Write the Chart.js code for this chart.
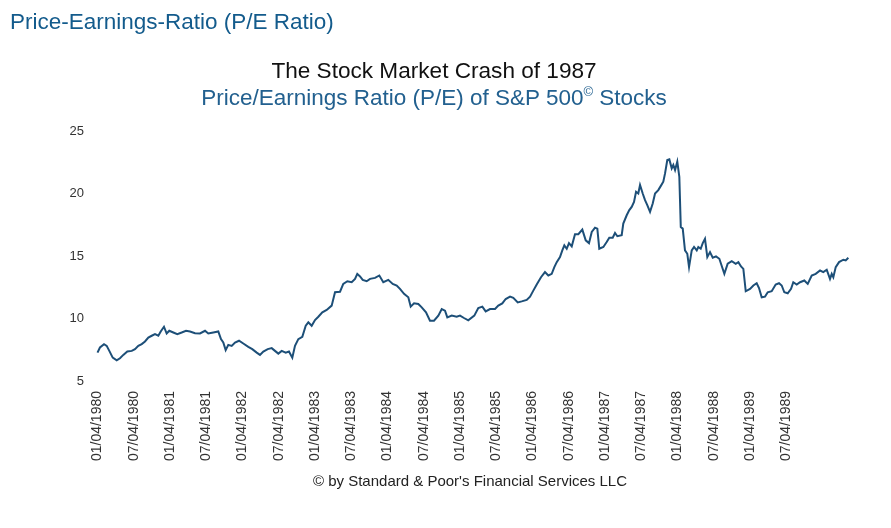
<!DOCTYPE html>
<html>
<head>
<meta charset="utf-8">
<script src="https://cdn.jsdelivr.net/npm/chart.js@4/dist/chart.umd.min.js"></script>
<style>
  html, body { margin: 0; padding: 0; background: #fff; width: 891px; height: 528px; overflow: hidden; font-family: "Liberation Sans", Arial, sans-serif; }
  #wrap { position: relative; width: 891px; height: 528px; }
  canvas { position: absolute; left: 0; top: 0; }
  .t { position: absolute; white-space: nowrap; line-height: 1; }
  #head { left: 10px; top: 11px; font-size: 22.5px; color: #135b8c; }
  #title { left: 0; width: 868px; text-align: center; top: 60px; font-size: 22.6px; color: #111; }
  #sub { left: 0; width: 868px; text-align: center; top: 87px; font-size: 22.5px; color: #22608f; }
  #sub sup { font-size: 13px; vertical-align: 9px; line-height: 0; }
  #copy { left: 0; width: 940px; text-align: center; top: 473px; font-size: 15px; color: #222; }
</style>
</head>
<body>
<div id="wrap">
  <canvas id="c" width="891" height="528"></canvas>
  <div class="t" id="head">Price-Earnings-Ratio (P/E Ratio)</div>
  <div class="t" id="title">The Stock Market Crash of 1987</div>
  <div class="t" id="sub">Price/Earnings Ratio (P/E) of S&amp;P 500<sup>©</sup> Stocks</div>
  <div class="t" id="copy">© by Standard &amp; Poor's Financial Services LLC</div>
</div>
<script>
// Time in years since 01/04/1980
const yearOffset = [
  0.000,0.034,0.090,0.127,0.163,0.210,0.265,0.310,0.356,0.411,0.472,0.517,0.563,0.610,0.655,0.701,0.748,0.793,0.839,0.872,
  0.917,0.954,0.990,1.046,1.101,1.161,1.221,1.276,1.345,1.414,1.483,1.528,1.597,1.666,1.703,1.735,1.768,1.804,1.851,1.897,
  1.952,2.011,2.080,2.135,2.196,2.241,2.287,2.348,2.403,2.448,2.494,2.541,2.596,2.641,2.687,2.724,2.770,2.825,2.872,2.908,
  2.954,3.000,3.046,3.101,3.161,3.230,3.276,3.345,3.390,3.446,3.506,3.552,3.583,3.621,3.658,3.713,3.759,3.828,3.887,3.942,
  4.011,4.072,4.127,4.172,4.228,4.287,4.320,4.366,4.425,4.472,4.531,4.586,4.641,4.701,4.748,4.793,4.825,4.886,4.954,5.000,
  5.055,5.114,5.197,5.252,5.308,5.354,5.414,5.483,5.528,5.583,5.630,5.690,5.735,5.796,5.851,5.920,5.966,6.011,6.058,6.117,
  6.172,6.218,6.265,6.301,6.334,6.379,6.411,6.439,6.472,6.503,6.541,6.586,6.632,6.687,6.734,6.779,6.817,6.862,6.894,6.921,
  6.977,7.023,7.059,7.106,7.138,7.170,7.230,7.252,7.299,7.335,7.368,7.400,7.428,7.459,7.483,7.520,7.552,7.583,7.621,7.658,
  7.690,7.735,7.768,7.804,7.828,7.859,7.887,7.920,7.942,7.966,7.997,8.025,8.045,8.072,8.103,8.135,8.159,8.196,8.228,8.265,
  8.287,8.320,8.348,8.379,8.411,8.448,8.486,8.531,8.577,8.646,8.692,8.748,8.803,8.839,8.876,8.908,8.941,9.000,9.046,9.092,
  9.124,9.161,9.207,9.244,9.299,9.354,9.400,9.437,9.473,9.520,9.566,9.597,9.644,9.690,9.749,9.796,9.851,9.906,9.966,10.011,
  10.058,10.103,10.127,10.149,10.182,10.228,10.287,10.320,10.356
];
const peRatio = [
  7.27,7.68,7.95,7.81,7.41,6.87,6.65,6.82,7.09,7.36,7.41,7.55,7.81,7.95,8.16,8.48,8.62,8.75,8.62,8.96,
  9.34,8.80,9.02,8.88,8.75,8.88,9.02,8.96,8.82,8.80,9.02,8.80,8.88,8.96,8.35,8.08,7.47,7.89,7.81,8.08,
  8.22,8.00,7.73,7.55,7.27,7.09,7.36,7.55,7.63,7.41,7.19,7.41,7.27,7.36,6.87,7.81,8.35,8.54,9.42,9.69,
  9.42,9.88,10.14,10.49,10.68,11.03,12.10,12.14,12.77,12.98,12.90,13.17,13.57,13.36,13.09,12.98,13.17,13.25,13.44,12.90,
  13.09,12.77,12.64,12.37,11.97,11.70,10.95,11.21,11.16,10.89,10.49,9.82,9.82,10.23,10.76,10.63,10.09,10.23,10.14,10.23,
  10.04,9.85,10.23,10.84,10.95,10.57,10.76,10.76,11.03,11.21,11.56,11.75,11.65,11.29,11.37,11.49,11.75,12.23,12.72,13.30,
  13.71,13.44,13.57,14.11,14.51,14.91,15.45,15.85,15.58,16.03,15.77,16.74,16.74,17.11,16.25,16.03,16.92,17.27,17.19,15.58,
  15.72,16.12,16.47,16.47,16.84,16.58,16.66,17.59,18.26,18.67,18.93,19.33,20.14,20.00,20.68,20.00,19.47,19.07,18.53,19.20,
  20.00,20.27,20.59,20.94,21.61,22.68,22.73,22.01,22.28,21.88,22.55,21.34,17.32,17.19,15.45,15.18,14.11,15.45,15.72,15.45,
  15.72,15.58,16.03,16.38,14.91,15.31,14.86,14.97,14.78,13.57,14.38,14.59,14.38,14.51,14.16,13.97,12.18,12.37,12.64,12.82,
  12.44,11.70,11.75,12.10,12.18,12.72,12.82,12.64,12.10,12.02,12.37,12.90,12.72,12.90,13.04,12.77,13.44,13.57,13.84,13.71,
  13.90,13.17,13.57,13.30,14.11,14.51,14.70,14.65,14.86
];
const tickLabels = [
  "01/04/1980","07/04/1980","01/04/1981","07/04/1981","01/04/1982","07/04/1982","01/04/1983","07/04/1983",
  "01/04/1984","07/04/1984","01/04/1985","07/04/1985","01/04/1986","07/04/1986","01/04/1987","07/04/1987",
  "01/04/1988","07/04/1988","01/04/1989","07/04/1989"
];
const tickYears = [0,0.5,1,1.5,2,2.5,3,3.5,4,4.5,5,5.5,6,6.5,7,7.5,8,8.5,9,9.5];
const yTicks = [5,10,15,20,25];

const points = yearOffset.map((x, i) => ({ x: x, y: peRatio[i] }));

new Chart(document.getElementById('c'), {
  type: 'line',
  data: { datasets: [{
    data: points,
    borderColor: '#1d4f78',
    borderWidth: 2,
    pointRadius: 0,
    tension: 0,
    fill: false
  }]},
  options: {
    responsive: false,
    animation: false,
    events: [],
    layout: { padding: { left: 48, right: 41, top: 131, bottom: 47 } },
    plugins: { legend: { display: false }, tooltip: { enabled: false }, title: { display: false } },
    scales: {
      x: {
        type: 'linear',
        min: -0.131,
        max: 10.379,
        grid: { display: false, drawTicks: false },
        border: { display: false },
        afterFit: (s) => { s.height = 100; },
        afterBuildTicks: (s) => { s.ticks = tickYears.map(v => ({ value: v })); },
        ticks: {
          autoSkip: false,
          minRotation: 90,
          maxRotation: 90,
          padding: 10,
          color: '#333',
          font: { family: "'Liberation Sans', Arial, sans-serif", size: 14 },
          callback: (v, i) => tickLabels[i]
        }
      },
      y: {
        min: 5,
        max: 25,
        grid: { display: false, drawTicks: false },
        border: { display: false },
        afterFit: (s) => { s.width = 40; },
        afterBuildTicks: (s) => { s.ticks = yTicks.map(v => ({ value: v })); },
        ticks: {
          padding: 4,
          color: '#333',
          font: { family: "'Liberation Sans', Arial, sans-serif", size: 13 },
          callback: (v) => String(v)
        }
      }
    }
  }
});
</script>
</body>
</html>
